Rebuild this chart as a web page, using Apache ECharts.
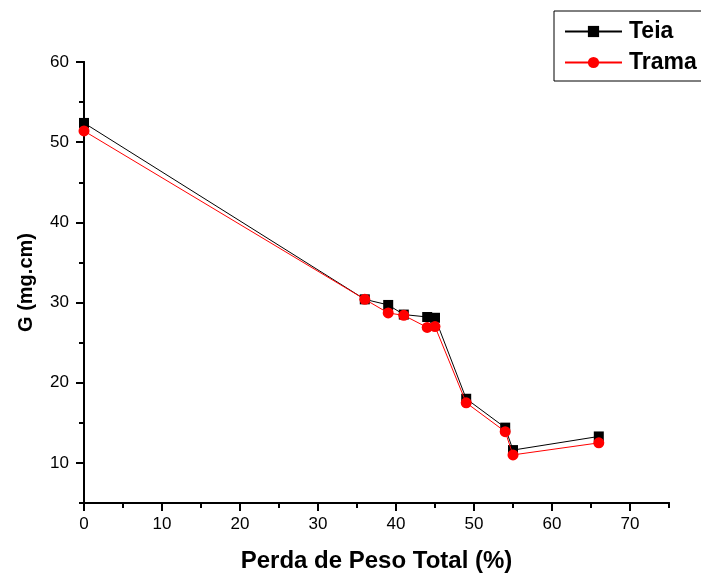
<!DOCTYPE html>
<html>
<head>
<meta charset="utf-8">
<script src="https://cdn.jsdelivr.net/npm/echarts@6/dist/echarts.min.js"></script>
<style>html,body{margin:0;padding:0;background:#fff;}#c{width:701px;height:573px;}</style>
</head>
<body>
<div id="c"></div>
<script>
var xTeia  = [0, 36, 39, 41, 44, 45, 49, 54, 55, 66];
var yTeia  = [52.4, 30.4, 29.7, 28.5, 28.2, 28.1, 18.0, 14.4, 11.6, 13.3];
var xTrama = [0, 36, 39, 41, 44, 45, 49, 54, 55, 66];
var yTrama = [51.4, 30.4, 28.7, 28.4, 26.9, 27.0, 17.5, 13.9, 11.0, 12.5];
var xMajorTicks = [0, 10, 20, 30, 40, 50, 60, 70];
var xMinorTicks = [5, 15, 25, 35, 45, 55, 65, 75];
var yMajorTicks = [10, 20, 30, 40, 50, 60];
var yMinorTicks = [5, 15, 25, 35, 45, 55];
var seriesNames = ['Teia', 'Trama'];

function pairs(xs, ys){ return xs.map(function(x,i){ return [x, ys[i]]; }); }

var FONT = 'Liberation Sans, Arial, sans-serif';
var chart = echarts.init(document.getElementById('c'), null, {renderer:'canvas'});
var axisLineStyle = {show:true, lineStyle:{color:'#000', width:2}};
chart.setOption({
  animation:false,
  backgroundColor:'#fff',
  grid:{left:84, right:32, top:62, bottom:70, containLabel:false, outerBoundsMode:'none'},
  legend:{
    left:554, top:11, orient:'vertical',
    data:seriesNames,
    itemWidth:57, itemHeight:14, itemGap:8,
    padding:[9, 12, 7, 10],
    borderColor:'#000', borderWidth:1, backgroundColor:'#fff',
    textStyle:{fontFamily:FONT, fontSize:23, fontWeight:'bold', color:'#000', padding:[0,0,0,2]}
  },
  xAxis:[{
    type:'value', min:0, max:75, position:'bottom',
    name:'Perda de Peso Total (%)', nameLocation:'middle', nameGap:46,
    nameTextStyle:{fontFamily:FONT, fontSize:24, fontWeight:'bold', color:'#000'},
    axisLine:axisLineStyle,
    axisTick:{show:true, inside:false, length:8, customValues:xMajorTicks, lineStyle:{color:'#000', width:2}},
    axisLabel:{show:true, margin:13, customValues:xMajorTicks, fontFamily:FONT, fontSize:17, color:'#000'},
    splitLine:{show:false}
  },{
    type:'value', min:0, max:75, position:'bottom', offset:0,
    axisLine:axisLineStyle,
    axisTick:{show:true, inside:false, length:5, customValues:xMinorTicks, lineStyle:{color:'#000', width:2}},
    axisLabel:{show:false},
    splitLine:{show:false}
  }],
  yAxis:[{
    type:'value', min:5, max:60, position:'left',
    name:'G (mg.cm)', nameLocation:'middle', nameGap:48,
    nameTextStyle:{fontFamily:FONT, fontSize:20, fontWeight:'bold', color:'#000'},
    axisLine:axisLineStyle,
    axisTick:{show:true, inside:false, length:8, customValues:yMajorTicks, lineStyle:{color:'#000', width:2}},
    axisLabel:{show:true, margin:15, customValues:yMajorTicks, fontFamily:FONT, fontSize:17, color:'#000'},
    splitLine:{show:false}
  },{
    type:'value', min:5, max:60, position:'left', offset:0,
    axisLine:axisLineStyle,
    axisTick:{show:true, inside:false, length:5, customValues:yMinorTicks, lineStyle:{color:'#000', width:2}},
    axisLabel:{show:false},
    splitLine:{show:false}
  }],
  series:[{
    name:seriesNames[0], type:'line', xAxisIndex:0, yAxisIndex:0,
    data:pairs(xTeia, yTeia),
    symbol:'rect', symbolSize:10,
    lineStyle:{color:'#000', width:1},
    itemStyle:{color:'#000'},
    z:2
  },{
    name:seriesNames[1], type:'line', xAxisIndex:0, yAxisIndex:0,
    data:pairs(xTrama, yTrama),
    symbol:'circle', symbolSize:11,
    lineStyle:{color:'#ff0000', width:1},
    itemStyle:{color:'#ff0000'},
    z:3
  }]
});
</script>
</body>
</html>
